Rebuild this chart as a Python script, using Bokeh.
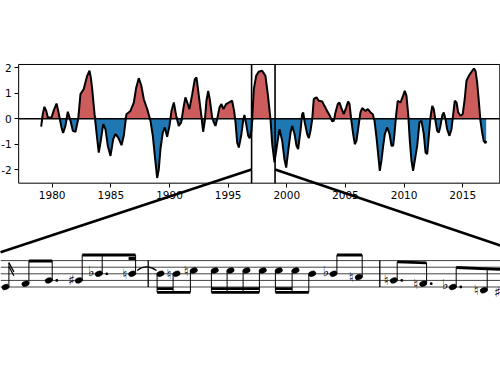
import numpy as np
from bokeh.plotting import figure
from bokeh.models import Range1d, LinearAxis, FixedTicker
from bokeh.core.properties import value
from bokeh.embed import file_html
from bokeh.resources import INLINE

# ---------------- chart data ----------------
years = [1979.06, 1979.2, 1979.34, 1979.5, 1979.63, 1979.94, 1980.15, 1980.37, 1980.52, 1980.65,
         1980.8, 1980.93, 1981.13, 1981.33, 1981.56, 1981.76, 1981.99, 1982.22, 1982.41, 1982.69,
         1982.98, 1983.18, 1983.3, 1983.41, 1983.61, 1983.84, 1983.97, 1984.12, 1984.35, 1984.54,
         1984.74, 1984.97, 1985.2, 1985.4, 1985.63, 1985.91, 1986.1, 1986.33, 1986.67, 1986.96,
         1987.15, 1987.38, 1987.6, 1987.81, 1988.1, 1988.38, 1988.58, 1988.75, 1988.95, 1989.09,
         1989.23, 1989.43, 1989.6, 1989.8, 1990.0, 1990.17, 1990.37, 1990.57, 1990.79, 1991.0,
         1991.22, 1991.36, 1991.56, 1991.7, 1991.94, 1992.16, 1992.3, 1992.5, 1992.7, 1992.87,
         1993.01, 1993.15, 1993.3, 1993.43, 1993.64, 1993.78, 1993.92, 1994.07, 1994.26, 1994.43,
         1994.6, 1994.83, 1995.05, 1995.34, 1995.51, 1995.63, 1995.77, 1995.91, 1996.11, 1996.28,
         1996.39, 1996.54, 1996.71, 1996.84, 1996.99, 1997.19, 1997.39, 1997.6, 1997.9, 1998.18,
         1998.38, 1998.61, 1998.76, 1998.95, 1999.18, 1999.38, 1999.61, 1999.8, 1999.95, 2000.12,
         2000.32, 2000.46, 2000.66, 2000.83, 2000.97, 2001.17, 2001.31, 2001.4, 2001.53, 2001.74,
         2001.88, 2002.02, 2002.17, 2002.3, 2002.53, 2002.73, 2003.02, 2003.21, 2003.44, 2003.67,
         2003.87, 2004.01, 2004.15, 2004.35, 2004.49, 2004.64, 2004.86, 2005.06, 2005.23, 2005.35,
         2005.49, 2005.66, 2005.8, 2005.94, 2006.14, 2006.28, 2006.43, 2006.71, 2006.91, 2007.14,
         2007.33, 2007.48, 2007.65, 2007.79, 2007.93, 2008.07, 2008.22, 2008.36, 2008.56, 2008.76,
         2008.93, 2009.07, 2009.18, 2009.33, 2009.46, 2009.69, 2009.92, 2010.06, 2010.2, 2010.35,
         2010.49, 2010.63, 2010.77, 2010.91, 2011.12, 2011.31, 2011.48, 2011.68, 2011.83, 2011.97,
         2012.11, 2012.25, 2012.4, 2012.53, 2012.68, 2012.82, 2012.96, 2013.1, 2013.25, 2013.38,
         2013.53, 2013.67, 2013.87, 2014.04, 2014.19, 2014.32, 2014.47, 2014.61, 2014.81, 2015.0,
         2015.17, 2015.32, 2015.52, 2015.81, 2015.95, 2016.09, 2016.23, 2016.37, 2016.51, 2016.66,
         2016.79, 2016.94, 2017.0]
index_values = [-0.31, 0.2, 0.47, 0.3, 0.05, 0.05, 0.35, 0.6, 0.3, -0.01,
                -0.35, -0.56, -0.28, 0.28, -0.08, -0.47, -0.51, 0.0, 0.97, 1.17,
                1.69, 1.89, 1.6, 1.17, 0.18, -0.8, -1.33, -0.93, -0.21, -0.41,
                -1.06, -1.46, -0.8, -0.6, -0.74, -1.04, -0.67, 0.18, 0.31, 0.64,
                1.2, 1.6, 1.3, 0.77, 0.38, -0.08, -0.67, -1.46, -2.33, -1.98,
                -1.19, -0.54, -0.34, -0.71, -0.28, 0.31, 0.64, 0.12, -0.28, -0.14,
                0.51, 0.84, 0.58, 0.38, 0.97, 1.56, 1.63, 0.91, 0.18, -0.51,
                -0.08, 0.71, 1.1, 0.78, 0.05, -0.14, -0.28, 0.0, 0.44, 0.58,
                0.38, 0.58, 0.64, 0.71, 0.31, -0.14, -0.93, -1.13, -0.67, -0.08,
                0.15, -0.21, -0.67, -0.77, -0.47, 1.17, 1.69, 1.85, 1.89, 1.69,
                0.97, -0.01, -1.0, -1.72, -1.0, -0.41, -0.87, -1.59, -1.92, -1.26,
                -0.54, -0.28, -0.6, -1.06, -1.19, -0.47, 0.18, 0.25, -0.14, -0.6,
                -0.76, -0.47, -0.01, 0.78, 0.84, 0.71, 0.68, 0.51, 0.31, 0.12,
                -0.1, -0.08, 0.25, 0.58, 0.64, 0.44, 0.18, 0.44, 0.68, 0.58,
                -0.01, -0.6, -1.0, -0.87, -0.21, 0.25, 0.42, 0.31, 0.38, 0.25,
                0.18, -0.08, -0.74, -1.39, -2.05, -1.65, -1.06, -0.6, -0.34, -0.6,
                -1.06, -1.06, -0.6, 0.18, 0.71, 0.64, 0.91, 1.1, 0.91, 0.18,
                -0.87, -1.65, -2.05, -1.65, -1.06, -0.14, -0.08, -0.6, -1.33, -1.39,
                -0.67, 0.05, 0.51, 0.38, -0.08, -0.47, -0.54, -0.28, 0.12, 0.25,
                -0.01, -0.41, -0.67, -0.41, 0.18, 0.71, 0.64, 0.25, 0.12, 0.18,
                0.78, 1.5, 1.69, 1.89, 1.98, 1.89, 1.43, 0.71, -0.08, -0.54,
                -0.87, -0.96, -0.87]
x_ticks = [1980, 1985, 1990, 1995, 2000, 2005, 2010, 2015]
y_ticks = [-2, -1, 0, 1, 2]
y_tick_labels = {-2: "-2", -1: "-1", 0: "0", 1: "1", 2: "2"}
zoom_years = [1997, 1999]
zoom_level = -2.0

# ---------------- score data ----------------
# engraving x positions; pitch as staff steps (0 = E4 on the bottom line)
note_x = [5, 25, 48.3, 78.3, 98.3, 131.7, 160, 176, 193.3, 214.3, 230, 246, 262.3,
          278.3, 295, 311.7, 333, 358.3, 393.3, 422.7, 452.3, 483.3]
note_step = [0, 1, 2, 2, 4, 4, 4, 4, 5, 5, 5, 5, 5, 5, 5, 4, 4, 3, 2, 1, 0, -1]
note_acc = ["", "", "", "\u266f", "\u266d", "\u266e", "", "\u266e", "\u266e", "", "", "", "",
            "", "", "", "\u266d", "\u266e", "\u266e", "\u266e", "\u266d", "\u266e"]
note_dot = [0, 0, 1, 0, 1, 0, 0, 0, 0, 0, 0, 0, 0, 0, 0, 0, 0, 0, 1, 1, 1, 0]
stem_up = [1, 1, 1, 1, 1, 1, 0, 0, 0, 0, 0, 0, 0, 0, 0, 0, 1, 1, 1, 1, 1, 1]
staff_lines = [0, 2, 4, 6, 8]
barlines_x = [147.7, 379.3]
# primary beams: (first note, last note, height at first, height at last, extend-to x)
beams = [(1, 2, 7.88, 7.88, None), (3, 5, 9.7, 9.7, None), (6, 8, -1.6, -1.6, None),
         (9, 12, -1.6, -1.6, None), (13, 15, -1.6, -1.6, None), (16, 17, 9.7, 9.7, None),
         (18, 19, 7.6, 7.3, None), (20, 21, 5.91, 5.5, 500)]
# secondary beams: (first note, last note, height); a single note gives a short stub
beams2 = [(5, 5, 8.64), (6, 7, -0.5), (9, 12, -0.5), (13, 14, -0.5)]
flag_note = 0
flag_top = 7.4
tie_notes = (5, 6)
next_sharp_x = 497
next_sharp_step = -1.5
inset_corner_x = [0, 500]
inset_corner_step = [10.55, 12.58]

# ---------------- layout of the single canvas ----------------
FIG_X = (1975.593, 2018.22)
FIG_Y = (-10.028, 4.657)
BOX_X = (1977.14, 2018.16)
BOX_Y = (-2.535, 2.138)
SCORE_X = (0, 500)
SCORE_Y = (-26.21, 86.82)

RED = "#cd5c5c"
BLUE = "#1f77b4"

p = figure(width=500, height=373, x_range=Range1d(*FIG_X), y_range=Range1d(*FIG_Y),
           output_backend="svg", toolbar_location=None, min_border=0,
           x_axis_location=None, y_axis_location=None)
p.outline_line_color = None
p.grid.visible = False
p.background_fill_color = "white"
p.border_fill_color = "white"
p.extra_x_ranges = {"sx": Range1d(*SCORE_X)}
p.extra_y_ranges = {"sy": Range1d(*SCORE_Y)}

# axes at fixed positions
xaxis = LinearAxis(fixed_location=BOX_Y[0], bounds=BOX_X, ticker=FixedTicker(ticks=x_ticks))
yaxis = LinearAxis(fixed_location=BOX_X[0], bounds=BOX_Y, ticker=FixedTicker(ticks=y_ticks),
                   major_label_overrides=y_tick_labels)
for ax in (xaxis, yaxis):
    ax.axis_line_color = None
    ax.major_tick_line_color = "black"
    ax.major_tick_line_width = 1
    ax.major_tick_out = 4
    ax.major_tick_in = 0
    ax.minor_tick_line_color = None
    ax.major_label_text_font = "DejaVu Sans"
    ax.major_label_text_font_size = "10.5px"
    ax.major_label_text_color = "black"
xaxis.major_label_standoff = 4
yaxis.major_label_standoff = 3
p.add_layout(xaxis, "below")
p.add_layout(yaxis, "left")

# chart
yrs = np.array(years)
vals = np.array(index_values)
p.varea(x=yrs, y1=np.zeros_like(vals), y2=np.maximum(vals, 0), fill_color=RED)
p.varea(x=yrs, y1=np.zeros_like(vals), y2=np.minimum(vals, 0), fill_color=BLUE)
p.segment(x0=[BOX_X[0]], y0=[0], x1=[BOX_X[1]], y1=[0], line_color="black", line_width=1.6)
p.line(yrs, vals, line_color="black", line_width=2)
p.segment(x0=zoom_years, y0=[BOX_Y[0]] * 2, x1=zoom_years, y1=[BOX_Y[1]] * 2,
          line_color="black", line_width=1.6)
p.quad(left=[BOX_X[0]], right=[BOX_X[1]], bottom=[BOX_Y[0]], top=[BOX_Y[1]],
       fill_color=None, line_color="black", line_width=1)


def score_to_chart(sx, sy):
    fx = (sx - SCORE_X[0]) / (SCORE_X[1] - SCORE_X[0])
    fy = (sy - SCORE_Y[0]) / (SCORE_Y[1] - SCORE_Y[0])
    return FIG_X[0] + fx * (FIG_X[1] - FIG_X[0]), FIG_Y[0] + fy * (FIG_Y[1] - FIG_Y[0])


ends = [score_to_chart(a, b) for a, b in zip(inset_corner_x, inset_corner_step)]
p.segment(x0=zoom_years, y0=[zoom_level] * 2, x1=[e[0] for e in ends], y1=[e[1] for e in ends],
          line_color="black", line_width=2.6, level="overlay")

# ---------------- score ----------------
S = dict(x_range_name="sx", y_range_name="sy")
n = len(note_x)
p.segment(x0=[SCORE_X[0]] * 5, x1=[SCORE_X[1]] * 5, y0=staff_lines, y1=staff_lines,
          line_color="#444444", line_width=1, **S)
p.segment(x0=barlines_x, x1=barlines_x, y0=[0] * 2, y1=[8] * 2, line_color="black",
          line_width=1.3, **S)

stem_x = [x + 3.4 if u else x - 3.4 for x, u in zip(note_x, stem_up)]
stem_end = [None] * n
bx0, bx1, by0, by1 = [], [], [], []
for i0, i1, h0, h1, ext in beams:
    xa, xb = stem_x[i0], stem_x[i1]
    for i in range(i0, i1 + 1):
        t = (stem_x[i] - xa) / (xb - xa) if xb != xa else 0
        stem_end[i] = h0 + t * (h1 - h0)
    if ext is not None:
        slope = (h1 - h0) / (xb - xa)
        bx0.append(xa); bx1.append(ext); by0.append(h0); by1.append(h1 + slope * (ext - xb))
    else:
        bx0.append(xa); bx1.append(xb); by0.append(h0); by1.append(h1)
for i0, i1, h in beams2:
    xa = stem_x[i0] if i0 != i1 else stem_x[i0] - 7
    bx0.append(xa); bx1.append(stem_x[i1]); by0.append(h); by1.append(h)
stem_end[flag_note] = flag_top

p.segment(x0=stem_x, x1=stem_x, y0=note_step, y1=stem_end, line_color="black",
          line_width=1, **S)
p.segment(x0=bx0, x1=bx1, y0=by0, y1=by1, line_color="black", line_width=2.8,
          line_cap="butt", **S)
fx = stem_x[flag_note]
p.quadratic(x0=[fx, fx], y0=[flag_top, flag_top - 1.2], x1=[fx + 5, fx + 5],
            y1=[flag_top - 2.8, flag_top - 4.0], cx=[fx + 2, fx + 2],
            cy=[flag_top - 1.2, flag_top - 2.4], line_color="black", line_width=1.3, **S)
p.ellipse(x=note_x, y=note_step, width=7.6, height=1.62, angle=0.35,
          fill_color="black", line_color="black", line_width=0.5, **S)

dx = [x + 8 for x, d in zip(note_x, note_dot) if d]
dy = [s for s, d in zip(note_step, note_dot) if d]
p.scatter(x=dx, y=dy, size=2.8, marker="circle", fill_color="black", line_color=None, **S)

ax_, ay_, at_ = [], [], []
for x, s, a in zip(note_x, note_step, note_acc):
    if a:
        ax_.append(x - 7.5)
        ay_.append(s + (0.9 if a == "\u266d" else 0.0))
        at_.append(a)
ax_.append(next_sharp_x); ay_.append(next_sharp_step); at_.append("\u266f")
p.text(x=ax_, y=ay_, text=at_, text_align="center", text_baseline="middle",
       text_font=value("DejaVu Sans"), text_font_size="14px", text_color="black", **S)

ta, tb = tie_notes
p.quadratic(x0=[note_x[ta] + 5], y0=[note_step[ta] + 1.0], x1=[note_x[tb] - 4],
            y1=[note_step[tb] + 1.0], cx=[(note_x[ta] + note_x[tb]) / 2],
            cy=[note_step[ta] + 3.2], line_color="black", line_width=1.2, **S)

with open("out.html", "w", encoding="utf-8") as f:
    f.write(file_html(p, INLINE))
